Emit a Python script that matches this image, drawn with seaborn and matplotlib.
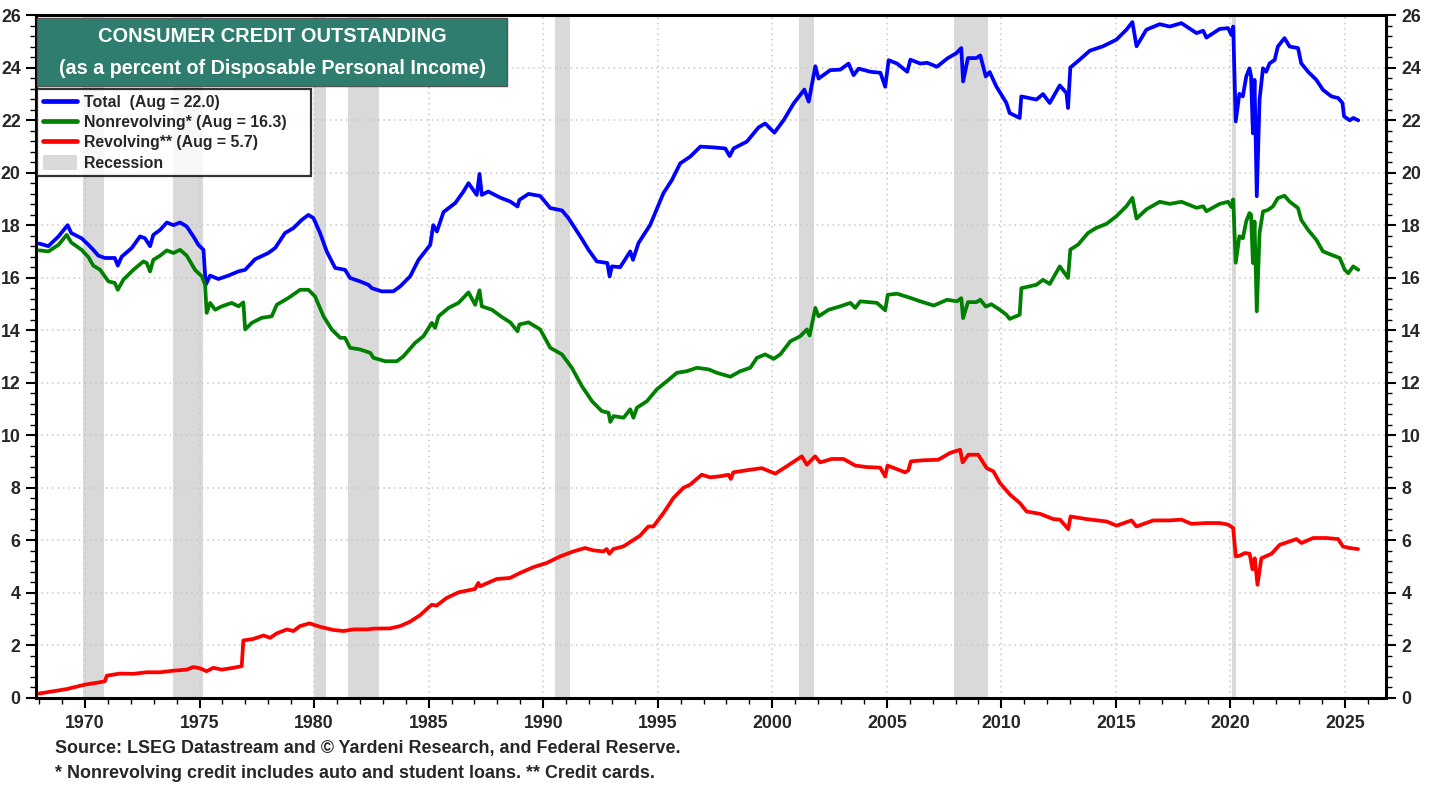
import pandas as pd
import seaborn as sns
import matplotlib
matplotlib.use("Agg")
from matplotlib import pyplot as plt
from matplotlib.lines import Line2D
from matplotlib.patches import Patch, Rectangle
from matplotlib.ticker import MultipleLocator, AutoMinorLocator

# values (percent of disposable personal income)
total_year = [1968.0, 1968.4, 1968.84, 1969.24, 1969.4, 1969.85, 1970.15, 1970.36, 1970.58, 1970.87,
              1971.3, 1971.43, 1971.6, 1972.04, 1972.4, 1972.62, 1972.84, 1972.98, 1973.28, 1973.57,
              1973.86, 1974.15, 1974.44, 1974.73, 1974.95, 1975.17, 1975.27, 1975.46, 1975.82, 1976.26,
              1976.7, 1976.99, 1977.42, 1978.0, 1978.3, 1978.73, 1979.1, 1979.46, 1979.75, 1979.97,
              1980.26, 1980.55, 1980.92, 1981.35, 1981.57, 1982.0, 1982.37, 1982.52, 1982.95, 1983.46,
              1983.76, 1984.19, 1984.56, 1985.07, 1985.2, 1985.36, 1985.65, 1986.16, 1986.52, 1986.74,
              1987.1, 1987.22, 1987.32, 1987.6, 1988.12, 1988.56, 1988.88, 1988.96, 1989.36, 1989.87,
              1990.31, 1990.82, 1991.1, 1991.62, 1991.98, 1992.34, 1992.8, 1992.9, 1993.0, 1993.36,
              1993.8, 1993.92, 1994.16, 1994.67, 1995.25, 1995.62, 1995.98, 1996.42, 1996.86, 1997.44,
              1997.95, 1998.14, 1998.31, 1998.89, 1999.4, 1999.69, 2000.09, 2000.5, 2000.93, 2001.4,
              2001.59, 2001.88, 2002.02, 2002.53, 2002.97, 2003.33, 2003.55, 2003.77, 2004.28, 2004.72,
              2004.93, 2005.08, 2005.45, 2005.89, 2006.03, 2006.46, 2006.76, 2007.19, 2007.63, 2008.04,
              2008.25, 2008.33, 2008.54, 2008.91, 2009.08, 2009.32, 2009.49, 2009.78, 2010.22, 2010.36,
              2010.8, 2010.87, 2011.53, 2011.82, 2012.11, 2012.55, 2012.84, 2012.91, 2013.01, 2013.42,
              2013.86, 2014.44, 2015.02, 2015.46, 2015.72, 2015.9, 2016.33, 2016.91, 2017.35, 2017.86,
              2018.52, 2018.81, 2018.95, 2019.53, 2019.9, 2020.04, 2020.12, 2020.23, 2020.39, 2020.54,
              2020.69, 2020.83, 2020.9, 2020.98, 2021.05, 2021.15, 2021.27, 2021.42, 2021.56, 2021.71,
              2021.93, 2022.07, 2022.36, 2022.58, 2022.95, 2023.09, 2023.39, 2023.75, 2024.04, 2024.41,
              2024.7, 2024.89, 2024.96, 2025.21, 2025.36, 2025.58]
total_val = [17.3, 17.2, 17.57, 18.0, 17.7, 17.5, 17.25, 17.06, 16.84, 16.75,
             16.75, 16.46, 16.8, 17.13, 17.57, 17.5, 17.2, 17.63, 17.82, 18.1,
             18.0, 18.1, 17.95, 17.57, 17.25, 17.06, 15.73, 16.08, 15.95, 16.08,
             16.24, 16.3, 16.7, 16.94, 17.13, 17.7, 17.89, 18.2, 18.39, 18.27,
             17.7, 17.0, 16.37, 16.3, 15.99, 15.86, 15.73, 15.6, 15.48, 15.48,
             15.67, 16.05, 16.68, 17.25, 18.0, 17.76, 18.5, 18.84, 19.28, 19.6,
             19.15, 19.95, 19.15, 19.28, 19.05, 18.9, 18.71, 18.96, 19.19, 19.11,
             18.65, 18.56, 18.27, 17.57, 17.06, 16.62, 16.56, 16.05, 16.43, 16.4,
             17.0, 16.68, 17.32, 18.01, 19.22, 19.72, 20.35, 20.61, 20.99, 20.96,
             20.92, 20.63, 20.92, 21.18, 21.72, 21.87, 21.52, 22.0, 22.63, 23.16,
             22.7, 24.05, 23.58, 23.9, 23.92, 24.15, 23.71, 23.96, 23.84, 23.8,
             23.27, 24.28, 24.15, 23.84, 24.3, 24.15, 24.18, 24.03, 24.34, 24.55,
             24.74, 23.47, 24.36, 24.36, 24.46, 23.66, 23.83, 23.28, 22.65, 22.27,
             22.08, 22.9, 22.78, 22.99, 22.65, 23.32, 23.03, 22.46, 24.0, 24.3,
             24.64, 24.81, 25.06, 25.44, 25.73, 24.81, 25.44, 25.65, 25.56, 25.69,
             25.31, 25.4, 25.14, 25.47, 25.5, 25.24, 25.56, 21.95, 23.0, 22.9,
             23.66, 23.97, 23.66, 21.5, 23.53, 19.1, 22.78, 23.97, 23.84, 24.16,
             24.29, 24.8, 25.12, 24.8, 24.74, 24.16, 23.84, 23.53, 23.15, 22.9,
             22.84, 22.65, 22.14, 21.99, 22.08, 21.99]

nonrev_year = [1968.0, 1968.4, 1968.84, 1969.2, 1969.4, 1969.85, 1970.15, 1970.36, 1970.66, 1971.02,
               1971.3, 1971.43, 1971.67, 1972.11, 1972.55, 1972.69, 1972.84, 1972.98, 1973.28, 1973.57,
               1973.86, 1974.15, 1974.44, 1974.8, 1975.1, 1975.24, 1975.31, 1975.46, 1975.68, 1975.97,
               1976.4, 1976.7, 1976.91, 1976.99, 1977.28, 1977.71, 1978.15, 1978.37, 1978.88, 1979.39,
               1979.75, 1980.04, 1980.41, 1980.77, 1981.14, 1981.35, 1981.57, 1982.0, 1982.45, 1982.59,
               1983.1, 1983.61, 1983.9, 1984.41, 1984.77, 1985.14, 1985.28, 1985.43, 1985.87, 1986.3,
               1986.74, 1987.03, 1987.22, 1987.32, 1987.76, 1988.2, 1988.56, 1988.88, 1988.96, 1989.36,
               1989.87, 1990.31, 1990.82, 1991.25, 1991.69, 1992.13, 1992.56, 1992.85, 1992.93, 1993.07,
               1993.51, 1993.8, 1993.94, 1994.09, 1994.53, 1994.96, 1995.4, 1995.84, 1996.27, 1996.71,
               1997.22, 1997.58, 1998.17, 1998.6, 1999.04, 1999.33, 1999.69, 2000.06, 2000.35, 2000.79,
               2001.22, 2001.51, 2001.63, 2001.88, 2002.02, 2002.46, 2002.97, 2003.41, 2003.62, 2003.84,
               2004.57, 2004.93, 2005.04, 2005.45, 2006.03, 2006.46, 2007.05, 2007.63, 2008.06, 2008.25,
               2008.33, 2008.54, 2008.91, 2009.08, 2009.32, 2009.56, 2009.93, 2010.22, 2010.36, 2010.8,
               2010.87, 2011.53, 2011.82, 2012.11, 2012.55, 2012.91, 2013.01, 2013.35, 2013.78, 2014.15,
               2014.59, 2015.02, 2015.46, 2015.72, 2015.9, 2016.33, 2016.91, 2017.35, 2017.86, 2018.52,
               2018.81, 2018.95, 2019.53, 2019.9, 2020.04, 2020.12, 2020.23, 2020.39, 2020.54, 2020.69,
               2020.83, 2020.9, 2020.98, 2021.05, 2021.15, 2021.27, 2021.42, 2021.64, 2021.85, 2022.07,
               2022.36, 2022.58, 2022.95, 2023.09, 2023.39, 2023.75, 2024.04, 2024.41, 2024.77, 2024.99,
               2025.14, 2025.36, 2025.58]
nonrev_val = [17.04, 17.0, 17.25, 17.63, 17.34, 17.06, 16.78, 16.46, 16.3, 15.86,
              15.8, 15.54, 15.92, 16.3, 16.62, 16.56, 16.24, 16.68, 16.84, 17.04,
              16.94, 17.06, 16.84, 16.3, 16.05, 15.73, 14.66, 15.04, 14.78, 14.91,
              15.04, 14.91, 15.06, 14.03, 14.28, 14.47, 14.53, 14.97, 15.23, 15.54,
              15.54, 15.29, 14.53, 14.03, 13.71, 13.71, 13.33, 13.27, 13.14, 12.95,
              12.82, 12.82, 13.01, 13.52, 13.77, 14.28, 14.09, 14.53, 14.85, 15.04,
              15.44, 14.97, 15.52, 14.91, 14.78, 14.5, 14.3, 13.96, 14.22, 14.3,
              14.03, 13.33, 13.08, 12.57, 11.87, 11.3, 10.92, 10.86, 10.51, 10.73,
              10.67, 10.99, 10.67, 11.05, 11.3, 11.75, 12.06, 12.38, 12.44, 12.57,
              12.51, 12.38, 12.23, 12.44, 12.57, 12.95, 13.08, 12.91, 13.08, 13.58,
              13.77, 14.03, 13.8, 14.85, 14.53, 14.78, 14.91, 15.04, 14.85, 15.1,
              15.04, 14.76, 15.35, 15.39, 15.23, 15.1, 14.94, 15.16, 15.1, 15.22,
              14.46, 15.07, 15.07, 15.16, 14.9, 14.99, 14.78, 14.59, 14.43, 14.59,
              15.6, 15.73, 15.92, 15.76, 16.43, 15.99, 17.07, 17.26, 17.7, 17.9,
              18.05, 18.34, 18.72, 19.04, 18.25, 18.6, 18.89, 18.81, 18.89, 18.66,
              18.72, 18.53, 18.81, 18.89, 18.69, 18.98, 16.57, 17.58, 17.5, 18.15,
              18.46, 18.4, 16.56, 18.14, 14.72, 17.7, 18.52, 18.58, 18.71, 19.03,
              19.12, 18.9, 18.65, 18.2, 17.82, 17.44, 17.0, 16.87, 16.75, 16.3,
              16.17, 16.43, 16.3]

rev_year = [1968.0, 1969.2, 1970.0, 1970.65, 1970.87, 1970.95, 1971.53, 1972.11, 1972.69, 1973.28,
            1973.86, 1974.44, 1974.73, 1975.02, 1975.31, 1975.6, 1975.97, 1976.48, 1976.84, 1976.91,
            1977.35, 1977.79, 1978.08, 1978.37, 1978.81, 1979.1, 1979.39, 1979.8, 1980.26, 1980.84,
            1981.28, 1981.72, 1982.3, 1982.59, 1983.32, 1983.76, 1984.18, 1984.62, 1985.13, 1985.35,
            1985.79, 1986.3, 1987.02, 1987.17, 1987.24, 1987.97, 1988.55, 1988.99, 1989.57, 1990.15,
            1990.74, 1991.32, 1991.83, 1992.19, 1992.63, 1992.77, 1992.89, 1993.06, 1993.5, 1993.94,
            1994.23, 1994.59, 1994.81, 1995.25, 1995.68, 1996.12, 1996.41, 1996.92, 1997.29, 1997.72,
            1998.09, 1998.19, 1998.3, 1998.89, 1999.54, 2000.13, 2000.63, 2001.29, 2001.51, 2001.87,
            2002.09, 2002.6, 2003.11, 2003.62, 2004.13, 2004.71, 2004.93, 2005.03, 2005.44, 2005.8,
            2005.94, 2006.05, 2006.6, 2007.25, 2007.76, 2008.2, 2008.31, 2008.56, 2008.99, 2009.36,
            2009.65, 2009.94, 2010.38, 2010.81, 2011.1, 2011.69, 2012.27, 2012.56, 2012.92, 2013.02,
            2013.72, 2014.59, 2015.03, 2015.68, 2015.9, 2016.63, 2017.35, 2017.86, 2018.3, 2018.95,
            2019.53, 2019.9, 2020.12, 2020.23, 2020.41, 2020.63, 2020.84, 2020.96, 2021.06, 2021.18,
            2021.35, 2021.79, 2022.15, 2022.88, 2023.1, 2023.61, 2024.19, 2024.7, 2024.91, 2025.2,
            2025.57]
rev_val = [0.17, 0.34, 0.51, 0.6, 0.64, 0.85, 0.93, 0.92, 0.98, 0.98,
           1.04, 1.08, 1.18, 1.13, 1.02, 1.15, 1.08, 1.15, 1.21, 2.19,
           2.25, 2.38, 2.29, 2.46, 2.61, 2.55, 2.74, 2.84, 2.71, 2.59,
           2.55, 2.61, 2.61, 2.64, 2.65, 2.74, 2.9, 3.15, 3.55, 3.52,
           3.81, 4.02, 4.15, 4.38, 4.25, 4.53, 4.57, 4.76, 4.98, 5.14,
           5.39, 5.58, 5.71, 5.62, 5.58, 5.67, 5.49, 5.67, 5.77, 6.02,
           6.18, 6.53, 6.53, 7.04, 7.61, 8.0, 8.12, 8.5, 8.4, 8.44,
           8.5, 8.34, 8.59, 8.67, 8.75, 8.54, 8.82, 9.2, 8.88, 9.2,
           8.97, 9.1, 9.1, 8.85, 8.79, 8.77, 8.43, 8.85, 8.71, 8.59,
           8.67, 9.01, 9.05, 9.07, 9.33, 9.45, 8.97, 9.26, 9.26, 8.75,
           8.63, 8.18, 7.74, 7.42, 7.1, 7.01, 6.81, 6.79, 6.43, 6.91,
           6.81, 6.72, 6.56, 6.76, 6.53, 6.76, 6.76, 6.79, 6.63, 6.66,
           6.66, 6.6, 6.47, 5.39, 5.42, 5.52, 5.49, 4.9, 5.32, 4.31,
           5.32, 5.49, 5.83, 6.05, 5.9, 6.09, 6.09, 6.05, 5.77, 5.71,
           5.67]

recession_start = [1969.92, 1973.83, 1980.0, 1981.5, 1990.5, 2001.17, 2007.92, 2020.08]
recession_end = [1970.83, 1975.17, 1980.5, 1982.83, 1991.17, 2001.83, 2009.42, 2020.25]

series_names = ["Total  (Aug = 22.0)", "Nonrevolving* (Aug = 16.3)", "Revolving** (Aug = 5.7)"]
series_colors = ["#0000ff", "#008000", "#ff0000"]

df = pd.concat([
    pd.DataFrame({"year": total_year, "value": total_val, "series": series_names[0]}),
    pd.DataFrame({"year": nonrev_year, "value": nonrev_val, "series": series_names[1]}),
    pd.DataFrame({"year": rev_year, "value": rev_val, "series": series_names[2]}),
], ignore_index=True)

sns.set_style("white")
plt.rcParams["font.family"] = ["Liberation Sans", "DejaVu Sans"]
plt.rcParams["font.weight"] = "bold"

fig = plt.figure(figsize=(14.38, 7.87), dpi=100)
ax = fig.add_axes([36 / 1438, 1 - 698 / 787, 1350 / 1438, 683 / 787])

for s, e in zip(recession_start, recession_end):
    ax.axvspan(s, e, color="#d9d9d9", lw=0, zorder=0)

sns.lineplot(data=df, x="year", y="value", hue="series", palette=dict(zip(series_names, series_colors)),
             ax=ax, legend=False, linewidth=2.7, sort=False, estimator=None, zorder=3)

ax.set_xlim(1967.86, 2026.79)
ax.set_ylim(0, 26)
ax.set_xlabel("")
ax.set_ylabel("")

ax.xaxis.set_major_locator(MultipleLocator(5))
ax.xaxis.set_minor_locator(MultipleLocator(1))
ax.yaxis.set_major_locator(MultipleLocator(2))
ax.yaxis.set_minor_locator(AutoMinorLocator(5))
ax.xaxis.set_major_formatter(plt.FuncFormatter(lambda v, p: f"{int(round(v))}"))

ax.grid(True, which="major", color="#c8c8c8", linestyle=(0, (1, 2.5)), linewidth=1.1, zorder=1)
ax.set_axisbelow(True)

ax.tick_params(axis="both", which="major", direction="out", length=7, width=1.5, labelsize=12.8, color="black")
ax.tick_params(axis="both", which="minor", direction="out", length=4, width=1.0, color="black")
ax.tick_params(axis="y", which="both", left=True, right=True, labelleft=True, labelright=True, pad=4)
ax.tick_params(axis="x", which="both", bottom=True, top=False, pad=5)
for lbl in ax.get_xticklabels() + ax.get_yticklabels():
    lbl.set_fontweight("bold")
for sp in ax.spines.values():
    sp.set_visible(True)
    sp.set_color("black")
    sp.set_linewidth(2.2)

# title box
ax.add_patch(Rectangle((0.0008, 0.896), 0.348, 0.0995, transform=ax.transAxes,
                       facecolor="#2f7d6f", edgecolor="#555555", lw=1.0, zorder=5))
ax.text(0.175, 0.969, "CONSUMER CREDIT OUTSTANDING", transform=ax.transAxes, ha="center", va="center",
        color="white", fontsize=14.4, fontweight="bold", zorder=6)
ax.text(0.175, 0.922, "(as a percent of Disposable Personal Income)", transform=ax.transAxes, ha="center",
        va="center", color="white", fontsize=14.2, fontweight="bold", zorder=6)

handles = [Line2D([0], [0], color=c, lw=3.4) for c in series_colors]
handles.append(Patch(facecolor="#d9d9d9", edgecolor="none"))
leg = ax.legend(handles, series_names + ["Recession"], loc="upper left",
                bbox_to_anchor=(0.0008, 0.764, 0.203, 0.128), mode="expand",
                borderaxespad=0, frameon=True, fancybox=False, handlelength=2.2, handleheight=1.1,
                handletextpad=0.4, labelspacing=0.26, borderpad=0.35,
                prop={"weight": "bold", "size": 11.4, "family": ["Liberation Sans", "DejaVu Sans"]})
leg.get_frame().set_edgecolor("black")
leg.get_frame().set_linewidth(1.6)
leg.set_zorder(6)

fig.text(55 / 1438, 1 - 748 / 787, "Source: LSEG Datastream and \u00a9 Yardeni Research, and Federal Reserve.",
         ha="left", va="center", fontsize=12.9, fontweight="bold")
fig.text(55 / 1438, 1 - 773 / 787, "* Nonrevolving credit includes auto and student loans. ** Credit cards.",
         ha="left", va="center", fontsize=12.9, fontweight="bold")

fig.savefig("out.png", dpi=100)
